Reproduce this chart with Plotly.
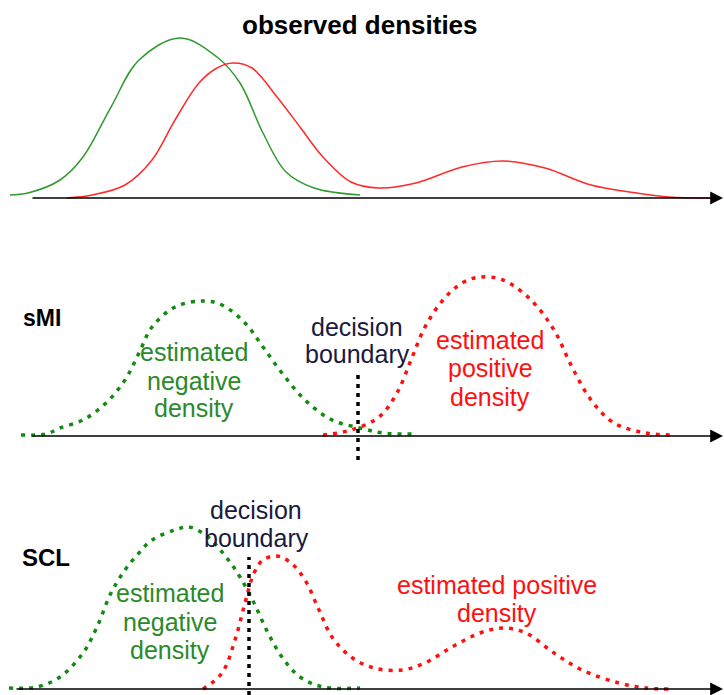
import plotly.graph_objects as go

# ---------------- data ----------------
# Horizontal positions are on a common feature axis (0-724); heights are
# density values above each panel's baseline.

# observed densities
obs_neg_x = [10, 28, 60, 83, 111, 139, 180, 217, 240, 263, 286, 314, 360]
obs_neg_y = [3, 5, 18, 41, 91, 138, 160, 141, 115, 65, 26, 10, 3]
obs_pos_x = [67, 92, 125, 152, 175, 199, 217, 233, 252, 277, 300, 323, 351,
             379, 416, 462, 503, 545, 591, 637, 669, 711]
obs_pos_y = [0, 3, 13, 38, 78, 115, 130, 135, 130, 101, 71, 41, 16,
             10, 15, 31, 37, 30, 13, 5, 1, 0]

# sMI estimates
smi_neg_x = [21, 46, 60, 83, 106, 125, 139, 152, 175, 203, 222, 245, 263,
             282, 305, 332, 360, 383, 415]
smi_neg_y = [1, 2, 8, 16, 33, 56, 83, 109, 129, 135, 131, 113, 89,
             63, 36, 16, 8, 3, 2]
smi_pos_x = [323, 351, 379, 397, 411, 425, 443, 462, 480, 503, 531, 554,
             572, 591, 614, 646, 674]
smi_pos_y = [1, 6, 19, 43, 76, 109, 136, 153, 159, 156, 136, 106,
             69, 36, 13, 3, 1]
smi_boundary = 358

# SCL estimates
scl_neg_x = [9, 37, 60, 83, 97, 111, 125, 139, 152, 175, 189, 208, 226,
             240, 254, 268, 282, 300, 323, 360]
scl_neg_y = [1, 2, 12, 36, 62, 96, 119, 136, 149, 159, 162, 152, 132,
             112, 86, 56, 32, 12, 2, 1]
scl_pos_x = [203, 222, 235, 245, 254, 263, 277, 291, 305, 319, 332, 351,
             374, 402, 425, 452, 480, 503, 526, 554, 582, 619, 646, 669]
scl_pos_y = [0, 16, 49, 86, 116, 129, 133, 126, 109, 79, 52, 32,
             21, 19, 26, 42, 56, 61, 56, 36, 19, 6, 1, 0]
scl_boundary = 249

# ---------------- styling ----------------
GREEN_THIN = "#2f9a2f"
RED_THIN = "#ff2a2a"
GREEN = "#138a13"
RED = "#ff1010"
DOTS = "4px,6px"
FONT = "Liberation Sans, Arial, sans-serif"

W, H = 724, 695
# pixel bands (top, bottom, baseline) of the three panels
bands = [(0, 230, 198), (230, 470, 436), (470, 695, 689)]

fig = go.Figure()


def line(x, y, yax, color, width, dash=None):
    fig.add_trace(go.Scatter(
        x=x, y=y, mode="lines", xaxis="x", yaxis=yax, hoverinfo="skip",
        line=dict(color=color, width=width, dash=dash, shape="spline",
                  smoothing=1.0),
        showlegend=False))


# axis arrows along each baseline
axis_start = [31, 31, 15]
for i, yax in enumerate(["y", "y2", "y3"]):
    fig.add_annotation(x=723, y=0, ax=axis_start[i], ay=0, xref="x", yref=yax,
                       axref="x", ayref=yax, text="", showarrow=True,
                       arrowhead=2, arrowsize=1.6, arrowwidth=1.6,
                       arrowcolor="black", standoff=0)

# panel 1: observed densities
line(obs_neg_x, obs_neg_y, "y", GREEN_THIN, 1.5)
line(obs_pos_x, obs_pos_y, "y", RED_THIN, 1.5)

# panel 2: sMI
line(smi_neg_x, smi_neg_y, "y2", GREEN, 3.5, DOTS)
line(smi_pos_x, smi_pos_y, "y2", RED, 3.5, DOTS)
line([smi_boundary, smi_boundary], [-24, 61], "y2", "black", 3.5, "4px,5px")

# panel 3: SCL
line(scl_neg_x, scl_neg_y, "y3", GREEN, 3.5, DOTS)
line(scl_pos_x, scl_pos_y, "y3", RED, 3.5, DOTS)
line([scl_boundary, scl_boundary], [-6, 132], "y3", "black", 3.5, "4px,5px")


def text(lines, x, ys, yax, color, size=25, bold=False):
    for s, yy in zip(lines, ys):
        fig.add_annotation(
            x=x, y=yy, xref="x", yref=yax, showarrow=False,
            text=f"<b>{s}</b>" if bold else s,
            font=dict(family=FONT, size=size, color=color),
            xanchor="center", yanchor="middle")


text(["observed densities"], 360, [173], "y", "black", size=26, bold=True)

text(["sMI"], 42, [436 - 318], "y2", "black", size=23, bold=True)
text(["decision", "boundary"], 357, [436 - 327, 436 - 354], "y2", "#1a1a3c")
text(["estimated", "negative", "density"], 194,
     [436 - 352, 436 - 381, 436 - 408], "y2", "#2a8a2a")
text(["estimated", "positive", "density"], 490,
     [436 - 340, 436 - 368, 436 - 397], "y2", RED)

text(["SCL"], 46, [689 - 557], "y3", "black", size=24, bold=True)
text(["decision", "boundary"], 256, [689 - 510, 689 - 538], "y3", "#1a1a3c")
text(["estimated", "negative", "density"], 170,
     [689 - 593, 689 - 622, 689 - 650], "y3", "#2a8a2a")
text(["estimated positive", "density"], 497, [689 - 585, 689 - 613], "y3", RED)

hidden = dict(visible=False, showgrid=False, zeroline=False, fixedrange=True)
layout_axes = {}
for i, (top, bottom, base) in enumerate(bands):
    name = "yaxis" if i == 0 else f"yaxis{i + 1}"
    layout_axes[name] = dict(hidden, domain=[1 - bottom / H, 1 - top / H],
                             range=[-(bottom - base), base - top],
                             anchor="x")

fig.update_layout(
    width=W, height=H, margin=dict(l=0, r=0, t=0, b=0),
    paper_bgcolor="white", plot_bgcolor="white",
    xaxis=dict(hidden, range=[0, W], domain=[0, 1]),
    **layout_axes)

fig.write_html("out.html")
